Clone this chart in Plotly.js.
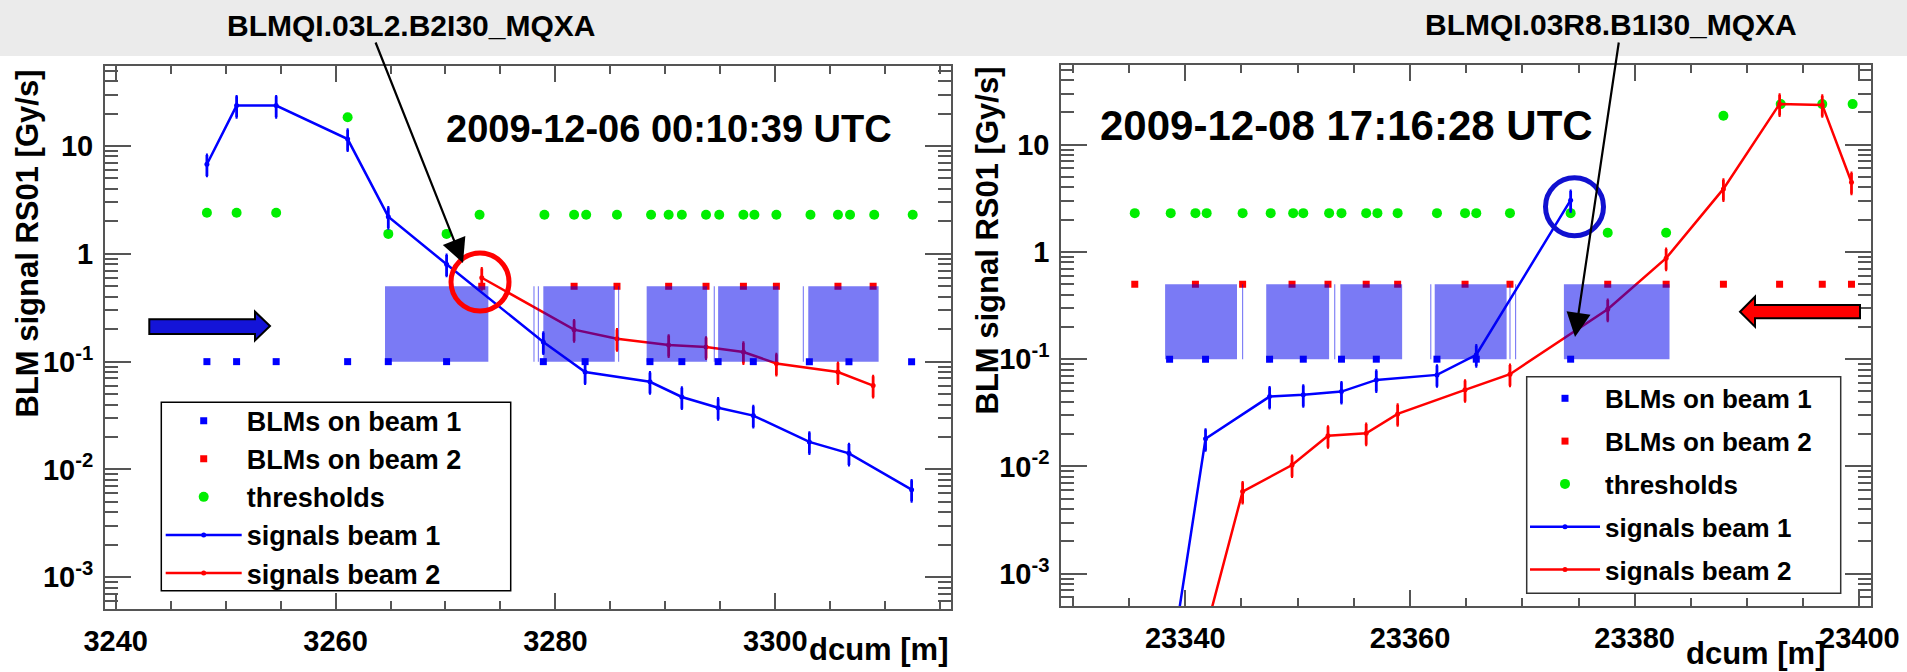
<!DOCTYPE html>
<html><head><meta charset="utf-8">
<script src="https://cdn.plot.ly/plotly-3.0.1.min.js"></script>
<style>html,body{margin:0;padding:0;background:#fff;}#chart{width:1907px;height:672px;}</style>
</head><body><div id="chart"></div>
<script>
// ---------------- data: left panel (2009-12-06) ----------------
const leftBlmBeam1X = [3248.3, 3251.0, 3254.6, 3261.1, 3264.8, 3270.1, 3278.9, 3282.7, 3288.6, 3291.5, 3294.8, 3298.0, 3303.1, 3306.7, 3312.4];
const leftBlmBeam1Y = [0.1, 0.1, 0.1, 0.1, 0.1, 0.1, 0.1, 0.1, 0.1, 0.1, 0.1, 0.1, 0.1, 0.1, 0.1];
const leftBlmBeam2X = [3273.3, 3281.7, 3285.6, 3290.3, 3293.7, 3297.1, 3300.1, 3305.7, 3308.9];
const leftBlmBeam2Y = [0.5, 0.5, 0.5, 0.5, 0.5, 0.5, 0.5, 0.5, 0.5];
const leftThresholdX = [3248.3, 3251.0, 3254.6, 3261.1, 3264.8, 3270.1, 3273.1, 3279.0, 3281.7, 3282.8, 3285.6, 3288.7, 3290.3, 3291.5, 3293.7, 3294.9, 3297.1, 3298.1, 3300.1, 3303.2, 3305.7, 3306.8, 3309.0, 3312.5];
const leftThresholdY = [2.4, 2.4, 2.4, 18.5, 1.53, 1.53, 2.3, 2.3, 2.3, 2.3, 2.3, 2.3, 2.3, 2.3, 2.3, 2.3, 2.3, 2.3, 2.3, 2.3, 2.3, 2.3, 2.3, 2.3];
const leftSignalBeam1Y = [6.77, 23.7, 23.7, 11.6, 2.21, 0.80, 0.152, 0.080, 0.065, 0.047, 0.0374, 0.0316, 0.0180, 0.0141, 0.0065];
const leftSignalBeam2Y = [0.60, 0.198, 0.163, 0.143, 0.137, 0.123, 0.096, 0.080, 0.060];
const leftBoxStart = [3264.5, 3278.0, 3278.4, 3278.9, 3285.7, 3288.3, 3294.4, 3294.8, 3302.5, 3303.0];
const leftBoxEnd   = [3273.9, 3278.1, 3278.5, 3285.4, 3285.8, 3293.8, 3294.5, 3300.3, 3302.6, 3309.4];

// ---------------- data: right panel (2009-12-08) ----------------
const rightBlmBeam1X = [23338.6, 23341.8, 23347.5, 23350.5, 23353.9, 23357.0, 23362.4, 23365.9, 23374.3];
const rightBlmBeam1Y = [0.1, 0.1, 0.1, 0.1, 0.1, 0.1, 0.1, 0.1, 0.1];
const rightBlmBeam2X = [23335.5, 23340.9, 23345.1, 23349.5, 23352.7, 23356.1, 23358.9, 23364.9, 23368.9, 23377.6, 23382.8, 23387.9, 23392.9, 23396.7, 23399.3];
const rightBlmBeam2Y = [0.5, 0.5, 0.5, 0.5, 0.5, 0.5, 0.5, 0.5, 0.5, 0.5, 0.5, 0.5, 0.5, 0.5, 0.5];
const rightThresholdX = [23335.5, 23338.7, 23340.9, 23341.9, 23345.1, 23347.6, 23349.6, 23350.5, 23352.8, 23353.9, 23356.1, 23357.1, 23358.9, 23362.4, 23364.9, 23365.9, 23368.9, 23374.3, 23377.6, 23382.8, 23387.9, 23393.0, 23396.7, 23399.4];
const rightThresholdY = [2.3, 2.3, 2.3, 2.3, 2.3, 2.3, 2.3, 2.3, 2.3, 2.3, 2.3, 2.3, 2.3, 2.3, 2.3, 2.3, 2.3, 2.3, 1.51, 1.51, 18.6, 23.9, 23.9, 23.9];
const rightSignalBeam1Y = [0.00012, 0.0181, 0.0448, 0.0465, 0.0499, 0.0641, 0.0714, 0.110, 3.04];
const rightSignalBeam2X = [23340.9, 23345.1, 23349.5, 23352.7, 23356.1, 23358.9, 23364.9, 23368.9, 23377.6, 23382.8, 23387.9, 23392.9, 23396.7, 23399.3];
const rightSignalBeam2Y = [0.000126, 0.00583, 0.0103, 0.0193, 0.0204, 0.0309, 0.0518, 0.0725, 0.292, 0.875, 3.87, 24.0, 23.5, 4.47];
const rightBoxStart = [23338.2, 23345.05, 23347.2, 23353.25, 23353.8, 23361.8, 23362.2, 23368.85, 23369.35, 23373.7];
const rightBoxEnd   = [23344.6, 23345.15, 23352.8, 23353.35, 23359.3, 23361.9, 23368.6, 23368.95, 23369.45, 23383.1];
const boxLow = 0.1, boxHigh = 0.5;

// ---------------- text ----------------
const legendNames = ['BLMs on beam 1', 'BLMs on beam 2', 'thresholds', 'signals beam 1', 'signals beam 2'];
const yTickVals = [0.001, 0.01, 0.1, 1, 10];
const yTickText = ['10<sup>-3</sup>', '10<sup>-2</sup>', '10<sup>-1</sup>', '1', '10'];
const leftDate = '2009-12-06 00:10:39 UTC';
const rightDate = '2009-12-08 17:16:28 UTC';
const leftMagnet = 'BLMQI.03L2.B2I30_MQXA';
const rightMagnet = 'BLMQI.03R8.B1I30_MQXA';
const yTitle = 'BLM signal RS01 [Gy/s]';
const xTitle = 'dcum [m]';

// ---------------- layout helpers ----------------
const W = 1907, H = 672;
const FONT = 'Liberation Sans, Arial, Helvetica, sans-serif';
const AXC = '#555';
const px = v => v / W;
const py = v => 1 - v / H;
const yMinorVals = [];
[0.0001, 0.001, 0.01, 0.1, 1, 10].forEach(d => { for (let k = 2; k <= 9; k++) yMinorVals.push(d * k); });

function boxPolygon(starts, ends) {
  const x = [], y = [];
  starts.forEach((s, i) => {
    x.push(s, s, ends[i], ends[i], s, null);
    y.push(boxLow, boxHigh, boxHigh, boxLow, boxLow, null);
  });
  return {x, y};
}

function xAxis(domain, range, tick0, anchor) {
  return {domain, range, anchor, type: 'linear', tick0, dtick: 20, tickformat: 'd', ticks: 'inside', ticklen: 16, tickwidth: 2,
    tickcolor: AXC, showline: true, linecolor: AXC, linewidth: 2, mirror: 'allticks', showgrid: false, zeroline: false,
    tickfont: {family: FONT, size: 29, color: '#000', weight: 'bold'}, ticklabelstandoff: 5,
    minor: {dtick: 5, tick0, ticks: 'inside', ticklen: 8, tickwidth: 2, tickcolor: AXC, showgrid: false}};
}
function yAxis(domain, range, anchor) {
  return {domain, range, anchor, type: 'log', tickmode: 'array', tickvals: yTickVals, ticktext: yTickText,
    ticks: 'inside', ticklen: 26, tickwidth: 2, tickcolor: AXC, showline: true, linecolor: AXC, linewidth: 2,
    mirror: 'allticks', showgrid: false, zeroline: false, ticklabelstandoff: 4,
    tickfont: {family: FONT, size: 29, color: '#000', weight: 'bold'},
    minor: {tickmode: 'array', tickvals: yMinorVals, ticks: 'inside', ticklen: 13, tickwidth: 2, tickcolor: AXC, showgrid: false}};
}

function panel(xa, ya, legend, g, d) {
  const err = c => ({type: 'percent', value: 22, color: c, thickness: 2.8, width: 1});
  const box = boxPolygon(d.boxStart, d.boxEnd);
  return [
    {type: 'scatter', mode: 'markers', x: d.b1x, y: d.b1y, name: legendNames[0], xaxis: xa, yaxis: ya, legend, legendgroup: g + '1',
      marker: {symbol: 'square', size: 7, color: '#0000ff'}},
    {type: 'scatter', mode: 'markers', x: d.b2x, y: d.b2y, name: legendNames[1], xaxis: xa, yaxis: ya, legend, legendgroup: g + '2',
      marker: {symbol: 'square', size: 7, color: '#ff0000'}},
    {type: 'scatter', mode: 'markers', x: d.thx, y: d.thy, name: legendNames[2], xaxis: xa, yaxis: ya, legend, legendgroup: g + '3',
      marker: {symbol: 'circle', size: 10, color: '#00ee00'}},
    {type: 'scatter', mode: 'lines+markers', x: d.s1x, y: d.s1y, name: legendNames[3], xaxis: xa, yaxis: ya, legend, legendgroup: g + '4',
      line: {color: '#0000ff', width: 2.5}, marker: {size: 5, color: '#0000ff'}, error_y: err('#0000ff')},
    {type: 'scatter', mode: 'lines+markers', x: d.s2x, y: d.s2y, name: legendNames[4], xaxis: xa, yaxis: ya, legend, legendgroup: g + '5',
      line: {color: '#ff0000', width: 2.5}, marker: {size: 5, color: '#ff0000'}, error_y: err('#ff0000')},
    {type: 'scatter', mode: 'lines', x: box.x, y: box.y, xaxis: xa, yaxis: ya, showlegend: false, hoverinfo: 'skip',
      fill: 'toself', fillcolor: 'rgba(0,0,235,0.52)', line: {width: 0, color: 'rgba(0,0,0,0)'}}
  ];
}

const traces = [].concat(
  panel('x', 'y', 'legend', 'L', {b1x: leftBlmBeam1X, b1y: leftBlmBeam1Y, b2x: leftBlmBeam2X, b2y: leftBlmBeam2Y,
    thx: leftThresholdX, thy: leftThresholdY, s1x: leftBlmBeam1X, s1y: leftSignalBeam1Y, s2x: leftBlmBeam2X, s2y: leftSignalBeam2Y,
    boxStart: leftBoxStart, boxEnd: leftBoxEnd}),
  panel('x2', 'y2', 'legend2', 'R', {b1x: rightBlmBeam1X, b1y: rightBlmBeam1Y, b2x: rightBlmBeam2X, b2y: rightBlmBeam2Y,
    thx: rightThresholdX, thy: rightThresholdY, s1x: rightBlmBeam1X, s1y: rightSignalBeam1Y, s2x: rightSignalBeam2X, s2y: rightSignalBeam2Y,
    boxStart: rightBoxStart, boxEnd: rightBoxEnd})
);

// decorations (pixel geometry converted to paper units)
function pathPx(pts) { return 'M' + pts.map(p => px(p[0]) + ',' + py(p[1])).join('L') + 'Z'; }
function circlePx(cx, cy, r, color) {
  return {type: 'circle', xref: 'paper', yref: 'paper', x0: px(cx - r), x1: px(cx + r), y0: py(cy + r), y1: py(cy - r),
    line: {color, width: 5}, layer: 'above'};
}
function rectPx(x0, y0, x1, y1, fill, lineColor, lw, layer) {
  return {type: 'rect', xref: 'paper', yref: 'paper', x0: px(x0), x1: px(x1), y0: py(y1), y1: py(y0),
    fillcolor: fill, line: {color: lineColor, width: lw}, layer};
}

const shapes = [
  rectPx(0, 0, W, 56, '#ebebeb', 'rgba(0,0,0,0)', 0, 'below'),
  rectPx(161.3, 402.3, 510.7, 590.7, '#ffffff', '#000000', 1.5, 'above'),
  rectPx(1526.7, 376.7, 1840.7, 593.3, '#ffffff', '#333333', 1.5, 'above'),
  circlePx(480, 282, 29, '#ff0000'),
  circlePx(1574.5, 206.7, 29, '#1010d0'),
  {type: 'path', xref: 'paper', yref: 'paper', layer: 'above', fillcolor: '#1414d8', line: {color: '#000', width: 2},
    path: pathPx([[149.3, 319.3], [255, 319.3], [255, 311.7], [270, 326], [255, 340.5], [255, 334], [149.3, 334]])},
  {type: 'path', xref: 'paper', yref: 'paper', layer: 'above', fillcolor: '#ff0000', line: {color: '#000', width: 2},
    path: pathPx([[1860, 305], [1755, 305], [1755, 296.7], [1740, 311.7], [1755, 326.7], [1755, 318.3], [1860, 318.3]])}
];

const bold = (size) => ({family: FONT, size, color: '#000', weight: 'bold'});
function label(text, x, y, size, extra) {
  return Object.assign({text, xref: 'paper', yref: 'paper', x: px(x), y: py(y), xanchor: 'center', yanchor: 'middle',
    showarrow: false, font: bold(size)}, extra || {});
}
function arrow(tipX, tipY, tailX, tailY) {
  return {text: '', xref: 'paper', yref: 'paper', x: px(tipX), y: py(tipY), ax: tailX - tipX, ay: tailY - tipY,
    showarrow: true, arrowhead: 2, arrowsize: 2.2, arrowwidth: 2.2, arrowcolor: '#000'};
}
const annotations = [
  label(leftMagnet, 411, 26, 30),
  label(rightMagnet, 1611, 25, 30),
  arrow(463, 263, 375, 41),
  arrow(1575, 337, 1619, 41),
  label(leftDate, 669, 129, 38),
  label(rightDate, 1346, 125, 42),
  label(yTitle, 27, 243.5, 31, {textangle: -90}),
  label(yTitle, 987, 240.5, 31, {textangle: -90}),
  label(xTitle, 951, 649, 31, {xanchor: 'right'}),
  label(xTitle, 1828, 653, 31, {xanchor: 'right'})
];

const layout = {
  width: W, height: H, autosize: false, margin: {l: 0, r: 0, t: 0, b: 0, pad: 0},
  paper_bgcolor: '#ffffff', plot_bgcolor: '#ffffff', showlegend: true,
  xaxis: xAxis([px(105), px(951.3)], [3239.03, 3316.01], 3240, 'y'),
  yaxis: yAxis([py(609.3), py(66)], [-3.297, 1.742], 'x'),
  xaxis2: xAxis([px(1061.3), px(1870.7)], [23328.96, 23401.01], 23340, 'y2'),
  yaxis2: yAxis([py(606.3), py(65)], [-3.304, 1.743], 'x2'),
  legend: {x: px(160.7), y: py(396.6), xanchor: 'left', yanchor: 'top', bgcolor: 'rgba(0,0,0,0)', borderwidth: 0,
    font: bold(27), itemwidth: 76, traceorder: 'grouped', tracegroupgap: 0},
  legend2: {x: px(1525), y: py(374.9), xanchor: 'left', yanchor: 'top', bgcolor: 'rgba(0,0,0,0)', borderwidth: 0,
    font: bold(26), itemwidth: 70, traceorder: 'grouped', tracegroupgap: 6},
  shapes, annotations
};

Plotly.newPlot('chart', traces, layout, {displayModeBar: false, staticPlot: true});
</script>
</body></html>
